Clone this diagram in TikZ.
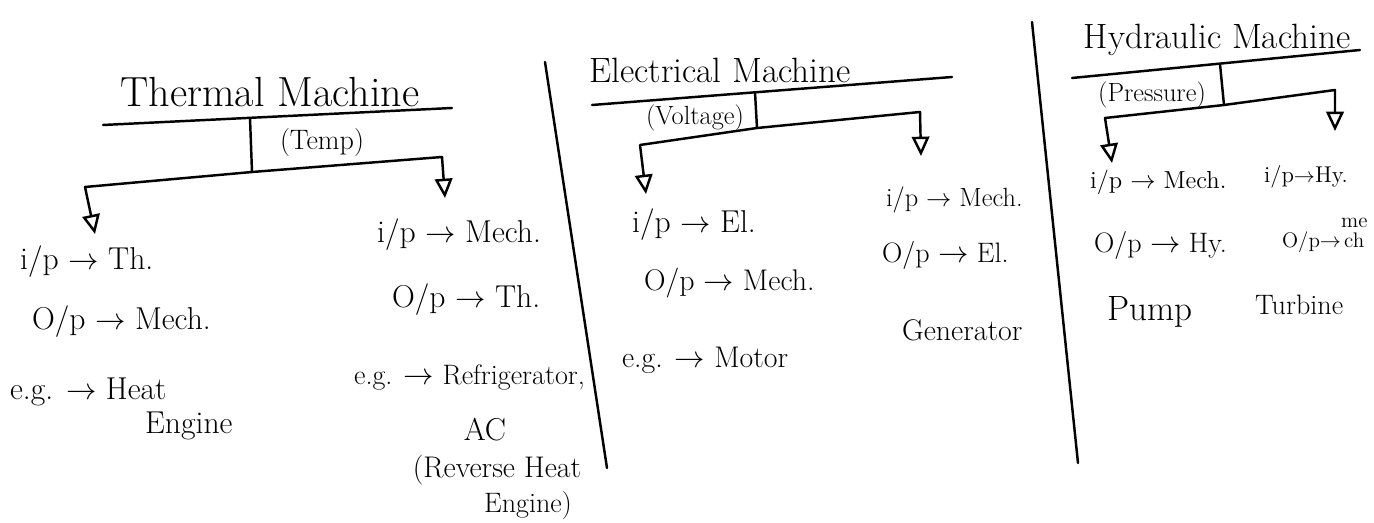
\documentclass[tikz,border=0pt]{standalone}
\usepackage{fontspec}
\usepackage{tikz}
\usetikzlibrary{arrows.meta}

\begin{document}
\begin{tikzpicture}[x=0.02cm, y=-0.02cm,
  every node/.style={inner sep=1pt},
  ttl/.style={font=\fontsize{20}{24}\selectfont},
  tag/.style={font=\fontsize{15}{18}\selectfont},
  itm/.style={anchor=west, font=\fontsize{18}{22}\selectfont},
  ln/.style={line width=1.4pt, line cap=round},
  arr/.style={line width=1.4pt, line join=round, -{Triangle[open, length=11pt, width=10pt]}},
]
\useasboundingbox (0,0) rectangle (1374,523);

% Thermal machine
\node[ttl, font=\fontsize{24}{28}\selectfont] (thm) at (270,92) {Thermal Machine};
\coordinate (thmL) at (103,125);
\coordinate (thmR) at (452,108);
\coordinate (thmS) at (250,118);
\coordinate (thmJ) at (252,172);
\coordinate (thmA) at (85,187);
\coordinate (thmB) at (442,157);
\coordinate (thmAe) at (95,234);
\coordinate (thmBe) at (445,198);
\draw[ln] (thmL) -- (thmR);
\draw[ln] (thmS) -- (thmJ);
\node[tag, font=\fontsize{16}{19}\selectfont] (temp) at (322,142) {(Temp)};
\draw[arr] (thmJ) -- (thmA) -- (thmAe);
\draw[arr] (thmJ) -- (thmB) -- (thmBe);

% Thermal: engine side
\node[itm] (th1) at (18,262) {i/p $\rightarrow$ Th.};
\node[itm] (th2) at (30,322) {O/p $\rightarrow$ Mech.};
\node[itm] (th3) at (8,392) {e.g. $\rightarrow$ Heat};
\node[itm] (th4) at (143,426) {Engine};

% Thermal: refrigerator side
\node[itm] (th5) at (375,235) {i/p $\rightarrow$ Mech.};
\node[itm] (th6) at (390,300) {O/p $\rightarrow$ Th.};
\node[itm, font=\fontsize{16}{19}\selectfont] (th7) at (352,378) {e.g. $\rightarrow$ Refrigerator,};
\node[font=\fontsize{18}{22}\selectfont] (th8) at (485,430) {AC};
\node[font=\fontsize{17}{20}\selectfont] (th9) at (497,470) {(Reverse Heat};
\node[font=\fontsize{16}{19}\selectfont] (th10) at (528,505) {Engine)};

% Divider
\coordinate (dv1a) at (545,62);
\coordinate (dv1b) at (607,468);
\draw[ln] (dv1a) -- (dv1b);

% Electrical machine
\node[ttl] (elm) at (720,70) {Electrical Machine};
\coordinate (elmL) at (592,105);
\coordinate (elmR) at (952,77);
\coordinate (elmS) at (755,92);
\coordinate (elmJ) at (757,128);
\coordinate (elmA) at (640,145);
\coordinate (elmB) at (920,112);
\coordinate (elmAe) at (646,194);
\coordinate (elmBe) at (921,156);
\draw[ln] (elmL) -- (elmR);
\draw[ln] (elmS) -- (elmJ);
\node[tag] (volt) at (695,118) {(Voltage)};
\draw[arr] (elmJ) -- (elmA) -- (elmAe);
\draw[arr] (elmJ) -- (elmB) -- (elmBe);

% Electrical: motor side
\node[itm] (el1) at (630,225) {i/p $\rightarrow$ El.};
\node[itm, font=\fontsize{17}{20}\selectfont] (el2) at (642,283) {O/p $\rightarrow$ Mech.};
\node[itm, font=\fontsize{17}{20}\selectfont] (el3) at (620,360) {e.g. $\rightarrow$ Motor};

% Electrical: generator side
\node[itm, font=\fontsize{15}{18}\selectfont] (el4) at (884,200) {i/p $\rightarrow$ Mech.};
\node[itm, font=\fontsize{16}{19}\selectfont] (el5) at (880,255) {O/p $\rightarrow$ El.};
\node[itm, font=\fontsize{17}{20}\selectfont] (el6) at (900,330) {Generator};

% Divider
\coordinate (dv2a) at (1032,22);
\coordinate (dv2b) at (1078,463);
\draw[ln] (dv2a) -- (dv2b);

% Hydraulic machine
\node[ttl] (hym) at (1217,40) {Hydraulic Machine};
\coordinate (hymL) at (1072,78);
\coordinate (hymR) at (1360,50);
\coordinate (hymS) at (1220,64);
\coordinate (hymJ) at (1224,105);
\coordinate (hymA) at (1105,118);
\coordinate (hymB) at (1335,90);
\coordinate (hymAe) at (1112,163);
\coordinate (hymBe) at (1335,131);
\draw[ln] (hymL) -- (hymR);
\draw[ln] (hymS) -- (hymJ);
\node[tag] (pres) at (1152,95) {(Pressure)};
\draw[arr] (hymJ) -- (hymA) -- (hymAe);
\draw[arr] (hymJ) -- (hymB) -- (hymBe);

% Hydraulic: pump side
\node[itm, font=\fontsize{14}{17}\selectfont] (hy1) at (1088,182) {i/p $\rightarrow$ Mech.};
\node[itm, font=\fontsize{16}{19}\selectfont] (hy2) at (1092,245) {O/p $\rightarrow$ Hy.};
\node[itm, font=\fontsize{20}{24}\selectfont] (hy3) at (1105,312) {Pump};

% Hydraulic: turbine side
\node[itm, font=\fontsize{13}{15}\selectfont] (hy4) at (1262,177) {i/p$\rightarrow$Hy.};
\node[itm, font=\fontsize{12}{14}\selectfont] (hy5) at (1280,235) {O/p$\rightarrow$\shortstack{me\\ch}};
\node[itm, font=\fontsize{16}{19}\selectfont] (hy6) at (1253,305) {Turbine};
\end{tikzpicture}
\end{document}
